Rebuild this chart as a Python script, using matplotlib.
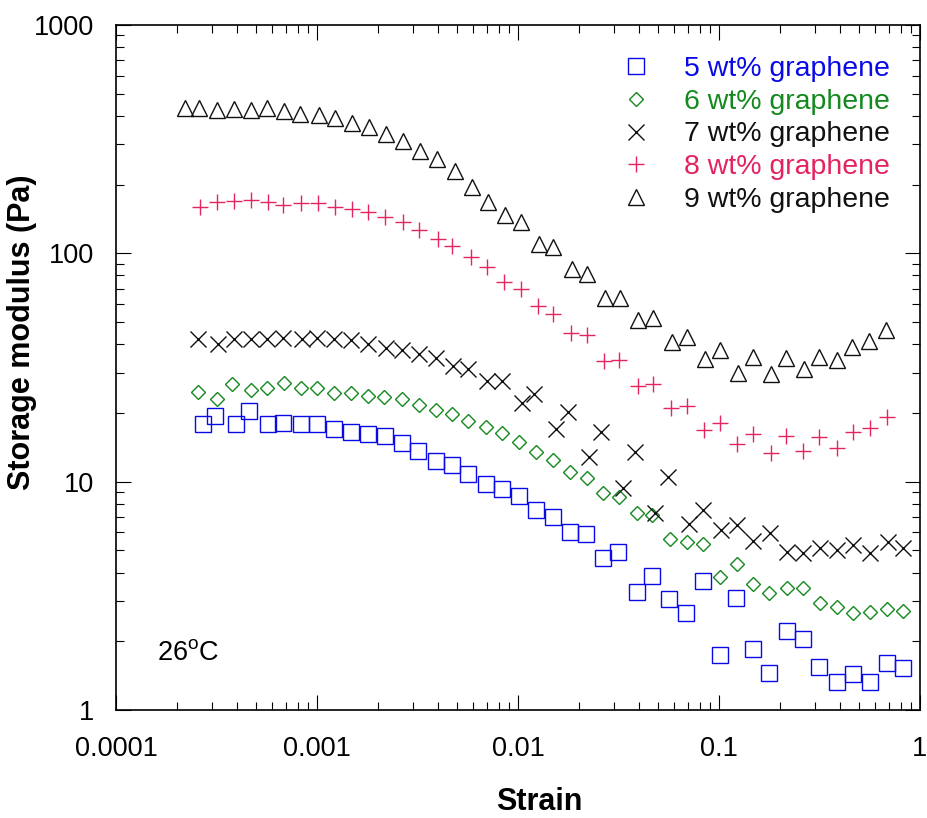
import matplotlib
matplotlib.use("Agg")
from matplotlib import pyplot as plt
from matplotlib.ticker import FixedLocator, LogLocator, NullFormatter, FuncFormatter

plt.rcParams['font.family'] = ['Liberation Sans', 'DejaVu Sans']
plt.rcParams['mathtext.fontset'] = 'custom'
plt.rcParams['mathtext.rm'] = 'Liberation Sans'

# storage modulus G' (Pa) vs strain
strain_5 = [2.71e-4, 3.11e-4, 3.95e-4, 4.59e-4, 5.71e-4, 6.77e-4, 8.33e-4, 1.00e-3, 1.215e-3, 1.48e-3,
            1.79e-3, 2.18e-3, 2.65e-3, 3.18e-3, 3.91e-3, 4.70e-3, 5.64e-3, 6.93e-3, 8.33e-3, 1.01e-2,
            1.23e-2, 1.49e-2, 1.81e-2, 2.18e-2, 2.65e-2, 3.15e-2, 3.91e-2, 4.64e-2, 5.64e-2, 6.85e-2,
            8.33e-2, 0.101, 0.1215, 0.148, 0.177, 0.218, 0.262, 0.315, 0.387, 0.464, 0.564, 0.685, 0.823]
g_5 = [17.9, 19.3, 17.9, 20.3, 17.9, 18.0, 17.9, 17.9, 17.0, 16.5,
       16.1, 15.8, 14.7, 13.6, 12.3, 11.8, 10.8, 9.75, 9.27, 8.64,
       7.50, 6.99, 6.01, 5.89, 4.63, 4.91, 3.28, 3.86, 3.06, 2.66,
       3.67, 1.74, 3.09, 1.85, 1.45, 2.22, 2.05, 1.54, 1.33, 1.44, 1.33, 1.61, 1.53]

strain_6 = [2.56e-4, 3.18e-4, 3.78e-4, 4.70e-4, 5.64e-4, 6.85e-4, 8.33e-4, 1.00e-3, 1.215e-3, 1.48e-3,
            1.79e-3, 2.15e-3, 2.65e-3, 3.22e-3, 3.91e-3, 4.70e-3, 5.64e-3, 6.93e-3, 8.33e-3, 1.01e-2,
            1.23e-2, 1.49e-2, 1.81e-2, 2.20e-2, 2.65e-2, 3.18e-2, 3.91e-2, 4.64e-2, 5.71e-2, 6.93e-2,
            8.33e-2, 0.101, 0.123, 0.148, 0.177, 0.218, 0.262, 0.318, 0.387, 0.464, 0.564, 0.685, 0.823]
g_6 = [24.6, 23.0, 26.7, 25.1, 25.7, 27.0, 25.7, 25.7, 24.4, 24.4,
       23.7, 23.4, 23.0, 21.6, 20.6, 19.7, 18.4, 17.3, 16.3, 14.9,
       13.5, 12.5, 11.0, 10.4, 8.91, 8.55, 7.28, 7.14, 5.60, 5.44,
       5.33, 3.82, 4.35, 3.56, 3.25, 3.42, 3.42, 2.94, 2.82, 2.66, 2.69, 2.77, 2.71]

strain_7 = [2.56e-4, 3.22e-4, 3.87e-4, 4.70e-4, 5.64e-4, 6.77e-4, 8.42e-4, 1.00e-3, 1.215e-3, 1.48e-3,
            1.79e-3, 2.20e-3, 2.65e-3, 3.22e-3, 3.91e-3, 4.75e-3, 5.64e-3, 7.01e-3, 8.33e-3, 1.047e-2,
            1.20e-2, 1.55e-2, 1.77e-2, 2.255e-2, 2.59e-2, 3.33e-2, 3.82e-2, 4.80e-2, 5.58e-2, 7.09e-2,
            8.33e-2, 0.102, 0.123, 0.148, 0.179, 0.218, 0.262, 0.318, 0.387, 0.464, 0.564, 0.693, 0.823]
g_7 = [42.0, 40.0, 42.0, 42.0, 42.0, 42.5, 42.0, 42.5, 42.0, 41.6,
       40.0, 38.4, 37.6, 36.1, 34.7, 32.0, 31.1, 27.5, 27.5, 22.1,
       24.1, 17.0, 20.1, 12.8, 16.5, 9.37, 13.5, 7.28, 10.5, 6.52,
       7.50, 6.13, 6.45, 5.49, 5.95, 4.91, 4.87, 5.12, 5.01, 5.27, 4.87, 5.44, 5.12]

strain_8 = [2.62e-4, 3.18e-4, 3.87e-4, 4.70e-4, 5.71e-4, 6.77e-4, 8.33e-4, 1.01e-3, 1.23e-3, 1.49e-3,
            1.79e-3, 2.18e-3, 2.68e-3, 3.22e-3, 4.00e-3, 4.70e-3, 5.84e-3, 7.01e-3, 8.52e-3, 1.035e-2,
            1.26e-2, 1.49e-2, 1.84e-2, 2.20e-2, 2.68e-2, 3.18e-2, 3.95e-2, 4.70e-2, 5.77e-2, 6.93e-2,
            8.42e-2, 0.101, 0.123, 0.148, 0.181, 0.215, 0.262, 0.315, 0.387, 0.464, 0.564, 0.685]
g_8 = [159, 167, 169, 171, 167, 162, 166, 166, 159, 157,
       151, 144, 137, 127, 116, 108, 96, 87, 75, 70,
       59, 54, 45, 44, 33.7, 34.0, 26.2, 26.7, 21.0, 21.4,
       16.8, 18.0, 14.6, 16.1, 13.3, 15.8, 13.6, 15.7, 14.0, 16.5, 17.1, 19.2]

strain_9 = [2.20e-4, 2.59e-4, 3.18e-4, 3.87e-4, 4.70e-4, 5.64e-4, 6.85e-4, 8.23e-4, 1.02e-3, 1.23e-3,
            1.49e-3, 1.81e-3, 2.20e-3, 2.68e-3, 3.25e-3, 3.95e-3, 4.86e-3, 5.90e-3, 7.09e-3, 8.62e-3,
            1.035e-2, 1.27e-2, 1.49e-2, 1.86e-2, 2.20e-2, 2.71e-2, 3.22e-2, 3.95e-2, 4.70e-2, 5.84e-2,
            6.93e-2, 8.52e-2, 0.101, 0.124, 0.148, 0.181, 0.215, 0.265, 0.315, 0.387, 0.459, 0.558, 0.677]
g_9 = [431, 435, 423, 427, 423, 431, 418, 406, 402, 390,
       374, 356, 332, 309, 282, 258, 229, 195, 167, 147,
       137, 110, 107, 85, 81, 64, 64, 51, 52, 41,
       43, 34.4, 37.6, 29.8, 35.1, 29.5, 34.7, 31.1, 35.1, 34.0, 38.8, 41.2, 46.0]

labels = ['5 wt% graphene', '6 wt% graphene', '7 wt% graphene', '8 wt% graphene', '9 wt% graphene']
colors = ['#0a0ae6', '#14891e', '#111111', '#e3245f', '#111111']
markers = ['s', 'D', 'x', '+', '^']
marker_sizes = [11, 7.6, 12, 11.5, 11.5]

x_ticks = [0.0001, 0.001, 0.01, 0.1, 1]
y_ticks = [1, 10, 100, 1000]

series = [(strain_5, g_5), (strain_6, g_6), (strain_7, g_7), (strain_8, g_8), (strain_9, g_9)]

fig = plt.figure(figsize=(9.28, 8.18), dpi=100)
ax = fig.add_axes([116 / 928, 1 - 710 / 818, 804 / 928, 685 / 818])

for i in range(len(series)):
    sx, sy = series[i]
    ax.plot(sx, sy, linestyle='none', marker=markers[i], ms=marker_sizes[i],
            mfc='none', mec=colors[i], mew=1.0, label=labels[i])

ax.set_xscale('log')
ax.set_yscale('log')
ax.set_xlim(1e-4, 1)
ax.set_ylim(1, 1000)

ax.xaxis.set_major_locator(FixedLocator(x_ticks))
ax.yaxis.set_major_locator(FixedLocator(y_ticks))
ax.xaxis.set_minor_locator(LogLocator(base=10, subs=range(2, 10)))
ax.yaxis.set_minor_locator(LogLocator(base=10, subs=range(2, 10)))
ax.xaxis.set_minor_formatter(NullFormatter())
ax.yaxis.set_minor_formatter(NullFormatter())
ax.xaxis.set_major_formatter(FuncFormatter(lambda v, p: '%g' % v))
ax.yaxis.set_major_formatter(FuncFormatter(lambda v, p: '%g' % v))

ax.tick_params(which='both', direction='in', top=True, right=True, width=0.8)
ax.tick_params(which='major', length=11, labelsize=19.5)
ax.tick_params(axis='x', which='major', pad=19)
ax.tick_params(axis='y', which='major', pad=16)
ax.tick_params(which='minor', length=6)
for sp in ax.spines.values():
    sp.set_linewidth(1.2)

ax.set_xlabel('Strain', fontsize=22, fontweight='bold')
ax.set_ylabel('Storage modulus (Pa)', fontsize=22, fontweight='bold')
ax.xaxis.set_label_coords(0.527, -0.113)
ax.yaxis.set_label_coords(-0.098, 0.552)

ax.text(0.051, 0.073, r'26$^{\rm o}$C', transform=ax.transAxes, fontsize=19.5, va='baseline')

leg = ax.legend(loc='upper left', bbox_to_anchor=(0.629, 0.955), frameon=False, fontsize=20.5,
                handlelength=1.0, handletextpad=1.2, labelspacing=0.24, borderpad=0,
                borderaxespad=0, labelcolor=colors)

fig.savefig('out.png', dpi=100)
